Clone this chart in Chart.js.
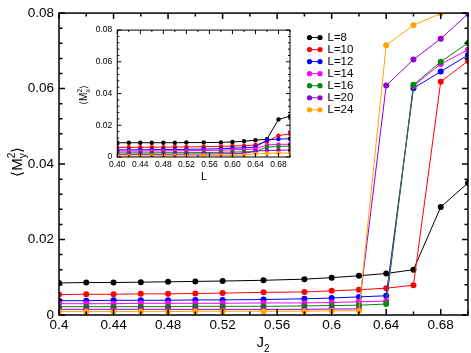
<!DOCTYPE html>
<html>
<head>
<meta charset="utf-8">
<script src="https://cdn.jsdelivr.net/npm/chart.js@4.4.1/dist/chart.umd.min.js"></script>
<style>
  body { margin: 0; background: #fff; }
  #wrap { position: relative; width: 471px; height: 353px; }
  #main { position: absolute; left: 0; top: 0; }
  #inset { position: absolute; left: 70px; top: 20px; }
</style>
</head>
<body>
<div id="wrap">
  <canvas id="main" width="471" height="353"></canvas>
  <canvas id="inset" width="230" height="165"></canvas>
</div>
<script>
// J2 values shared by every series
const J2 = [0.40, 0.42, 0.44, 0.46, 0.48, 0.50, 0.52, 0.55, 0.58, 0.60, 0.62, 0.64, 0.66, 0.68, 0.70];
const sizes = ["L=8", "L=10", "L=12", "L=14", "L=16", "L=20", "L=24"];
const colors = ["#000000", "#ff0000", "#0000ff", "#ff00ff", "#008b00", "#9400d3", "#ffa500"];

// main plot: <My^2>
const myL8  = [0.0085, 0.0086, 0.0086, 0.0087, 0.0088, 0.0089, 0.0090, 0.0092, 0.0095, 0.0099, 0.0104, 0.0110, 0.0120, 0.0286, 0.0350];
const myL10 = [0.0054, 0.0055, 0.0055, 0.0056, 0.0056, 0.0057, 0.0058, 0.0060, 0.0061, 0.0064, 0.0067, 0.0071, 0.0079, 0.0618, 0.0673];
const myL12 = [0.0038, 0.0038, 0.0039, 0.0039, 0.0039, 0.0040, 0.0040, 0.0041, 0.0043, 0.0045, 0.0048, 0.0051, 0.0601, 0.0645, 0.0689];
const myL14 = [0.0030, 0.0030, 0.0030, 0.0031, 0.0031, 0.0031, 0.0031, 0.0032, 0.0032, 0.0033, 0.0035, 0.0037, 0.0607, 0.0665, 0.0703];
const myL16 = [0.0022, 0.0022, 0.0022, 0.0022, 0.0022, 0.0023, 0.0023, 0.0023, 0.0024, 0.0025, 0.0026, 0.0029, 0.0610, 0.0671, 0.0721];
const myL20 = [0.0015, 0.0015, 0.0015, 0.0015, 0.0015, 0.0015, 0.0015, 0.0015, 0.0015, 0.0016, 0.0016, 0.0608, 0.0677, 0.0732, 0.0798];
const myL24 = [0.0009, 0.0009, 0.0009, 0.0009, 0.0009, 0.0010, 0.0010, 0.0010, 0.0010, 0.0011, 0.0011, 0.0715, 0.0768, 0.0799, 0.0815];

// inset: <Mx^2>
const mxL8  = [0.0090, 0.0090, 0.0090, 0.0090, 0.0090, 0.0090, 0.0091, 0.0091, 0.0092, 0.0095, 0.0099, 0.0106, 0.0112, 0.0237, 0.0257];
const mxL10 = [0.0061, 0.0061, 0.0061, 0.0062, 0.0062, 0.0063, 0.0063, 0.0065, 0.0067, 0.0069, 0.0071, 0.0076, 0.0098, 0.0135, 0.0146];
const mxL12 = [0.0045, 0.0045, 0.0046, 0.0046, 0.0047, 0.0047, 0.0048, 0.0050, 0.0052, 0.0055, 0.0058, 0.0062, 0.0108, 0.0113, 0.0115];
const mxL14 = [0.0037, 0.0037, 0.0037, 0.0038, 0.0038, 0.0039, 0.0039, 0.0041, 0.0043, 0.0045, 0.0047, 0.0050, 0.0076, 0.0079, 0.0081];
const mxL16 = [0.0026, 0.0026, 0.0026, 0.0026, 0.0027, 0.0027, 0.0027, 0.0028, 0.0030, 0.0031, 0.0032, 0.0034, 0.0063, 0.0066, 0.0069];
const mxL20 = [0.0017, 0.0017, 0.0017, 0.0017, 0.0017, 0.0018, 0.0018, 0.0019, 0.0020, 0.0021, 0.0022, 0.0038, 0.0041, 0.0043, 0.0044];
const mxL24 = [0.0007, 0.0007, 0.0007, 0.0008, 0.0008, 0.0008, 0.0008, 0.0009, 0.0010, 0.0011, 0.0012, 0.0020, 0.0023, 0.0025, 0.0026];

// tick labels
const mainXTicks = [0.40, 0.44, 0.48, 0.52, 0.56, 0.60, 0.64, 0.68];
const mainYTicks = [0, 0.02, 0.04, 0.06, 0.08];
const insetXTicks = [0.40, 0.44, 0.48, 0.52, 0.56, 0.60, 0.64, 0.68];
const insetYTicks = [0, 0.02, 0.04, 0.06, 0.08];

const FONT = "'Liberation Sans', Arial, sans-serif";

function buildSets(series, radius) {
  return series.map((vals, i) => ({
    label: sizes[i],
    data: J2.map((x, k) => ({ x: x, y: vals[k] })),
    borderColor: colors[i],
    backgroundColor: colors[i],
    borderWidth: 1,
    pointRadius: radius,
    pointHoverRadius: radius,
    pointBorderWidth: 0,
    tension: 0,
    order: series.length - i,
  }));
}

// box + inward ticks on all four sides
function framePlugin(o) {
  return {
    id: "frame",
    afterDatasetsDraw(chart) {
      const { ctx, chartArea: a, scales: { x, y } } = chart;
      ctx.save();
      ctx.strokeStyle = "#000";
      ctx.lineWidth = o.lw;
      ctx.beginPath();
      let n = Math.round((x.max - x.min) / o.xMinor);
      for (let i = 0; i <= n; i++) {
        const px = x.getPixelForValue(x.min + i * o.xMinor);
        const len = i % o.xRatio === 0 ? o.major : o.minor;
        ctx.moveTo(px, a.bottom); ctx.lineTo(px, a.bottom - len);
        ctx.moveTo(px, a.top); ctx.lineTo(px, a.top + len);
      }
      n = Math.round((y.max - y.min) / o.yMinor);
      for (let i = 0; i <= n; i++) {
        const py = y.getPixelForValue(y.min + i * o.yMinor);
        const len = i % o.yRatio === 0 ? o.major : o.minor;
        ctx.moveTo(a.left, py); ctx.lineTo(a.left + len, py);
        ctx.moveTo(a.right, py); ctx.lineTo(a.right - len, py);
      }
      ctx.stroke();
      ctx.strokeRect(a.left, a.top, a.right - a.left, a.bottom - a.top);
      ctx.restore();
    },
  };
}

// text with super/subscripts; parts: {t, size, dy, hold}
function drawRich(ctx, parts, cx, base) {
  let w = 0;
  const widths = parts.map((p) => {
    ctx.font = p.size + "px " + FONT;
    const m = ctx.measureText(p.t).width;
    return m;
  });
  parts.forEach((p, i) => { if (!p.hold) w += widths[i]; });
  let x = cx - w / 2;
  parts.forEach((p, i) => {
    ctx.font = p.size + "px " + FONT;
    ctx.fillText(p.t, x, base + (p.dy || 0));
    if (!p.hold) x += widths[i];
  });
}

const mainText = {
  id: "mainText",
  afterDraw(chart) {
    const ctx = chart.ctx;
    ctx.save();
    ctx.fillStyle = "#000";
    ctx.textBaseline = "alphabetic";
    ctx.textAlign = "left";
    // y title
    ctx.save();
    ctx.translate(21.5, 162);
    ctx.rotate(-Math.PI / 2);
    drawRich(ctx, [
      { t: "\u27E8", size: 15 },
      { t: "M", size: 15 },
      { t: "2", size: 10, dy: -7, hold: true },
      { t: "y", size: 10, dy: 4 },
      { t: "\u27E9", size: 15 },
    ], 0, 0);
    ctx.restore();
    // x title
    drawRich(ctx, [
      { t: "J", size: 15 },
      { t: "2", size: 10, dy: 5 },
    ], 263, 347);
    // legend
    chart.data.datasets.forEach((ds, i) => {
      const yy = 37.5 + i * 12.05;
      ctx.strokeStyle = ds.borderColor;
      ctx.fillStyle = ds.borderColor;
      ctx.lineWidth = 1;
      ctx.beginPath();
      ctx.moveTo(309.5, yy); ctx.lineTo(320, yy);
      ctx.stroke();
      [309.5, 320].forEach((px) => {
        ctx.beginPath();
        ctx.arc(px, yy, 2.6, 0, Math.PI * 2);
        ctx.fill();
      });
      ctx.fillStyle = "#000";
      ctx.font = "11.5px " + FONT;
      ctx.textBaseline = "middle";
      ctx.fillText(ds.label, 327.5, yy + 0.5);
    });
    ctx.restore();
  },
};

const insetText = {
  id: "insetText",
  afterDraw(chart) {
    const ctx = chart.ctx;
    ctx.save();
    ctx.fillStyle = "#000";
    ctx.textBaseline = "alphabetic";
    ctx.save();
    ctx.translate(16.5, 75);
    ctx.rotate(-Math.PI / 2);
    drawRich(ctx, [
      { t: "\u27E8", size: 10 },
      { t: "M", size: 10 },
      { t: "2", size: 7, dy: -5, hold: true },
      { t: "x", size: 7, dy: 3 },
      { t: "\u27E9", size: 10 },
    ], 0, 0);
    ctx.restore();
    drawRich(ctx, [{ t: "L", size: 11 }], 134, 160);
    ctx.restore();
  },
};

Chart.defaults.font.family = FONT;
Chart.defaults.color = "#000";

new Chart(document.getElementById("main"), {
  type: "line",
  data: { datasets: buildSets([myL8, myL10, myL12, myL14, myL16, myL20, myL24], 3) },
  options: {
    responsive: false,
    animation: false,
    events: [],
    layout: { padding: { top: 6, right: 2, left: 0, bottom: 0 } },
    plugins: { legend: { display: false }, tooltip: { enabled: false } },
    scales: {
      x: {
        type: "linear",
        min: 0.4,
        max: 0.7,
        afterFit: (s) => { s.height = 38; },
        afterBuildTicks: (s) => { s.ticks = mainXTicks.map((v) => ({ value: v })); },
        grid: { display: false, drawTicks: false },
        border: { display: false },
        ticks: {
          autoSkip: false, maxRotation: 0, padding: 2,
          font: { size: 13.5 },
          callback: (v) => String(+v.toFixed(2)),
        },
      },
      y: {
        min: 0,
        max: 0.08,
        afterFit: (s) => { s.width = 59; },
        afterBuildTicks: (s) => { s.ticks = mainYTicks.map((v) => ({ value: v })); },
        grid: { display: false, drawTicks: false },
        border: { display: false },
        ticks: {
          autoSkip: false, padding: 5,
          font: { size: 13.5 },
          callback: (v) => (v === 0 ? "0" : v.toFixed(2)),
        },
      },
    },
  },
  plugins: [framePlugin({ lw: 1.5, major: 6, minor: 3.5, xMinor: 0.02, xRatio: 2, yMinor: 0.004, yRatio: 5 }), mainText],
});

new Chart(document.getElementById("inset"), {
  type: "line",
  data: { datasets: buildSets([mxL8, mxL10, mxL12, mxL14, mxL16, mxL20, mxL24], 2.2) },
  options: {
    responsive: false,
    animation: false,
    events: [],
    layout: { padding: { top: 8.3, right: 10, left: 0, bottom: 0 } },
    plugins: { legend: { display: false }, tooltip: { enabled: false } },
    scales: {
      x: {
        type: "linear",
        min: 0.4,
        max: 0.7,
        afterFit: (s) => { s.height = 28; },
        afterBuildTicks: (s) => { s.ticks = insetXTicks.map((v) => ({ value: v })); },
        grid: { display: false, drawTicks: false },
        border: { display: false },
        ticks: {
          autoSkip: false, maxRotation: 0, padding: 3,
          font: { size: 8.5 },
          callback: (v) => v.toFixed(2),
        },
      },
      y: {
        min: 0,
        max: 0.08,
        afterFit: (s) => { s.width = 47.3; },
        afterBuildTicks: (s) => { s.ticks = insetYTicks.map((v) => ({ value: v })); },
        grid: { display: false, drawTicks: false },
        border: { display: false },
        ticks: {
          autoSkip: false, padding: 5,
          font: { size: 8.5 },
          callback: (v) => (v === 0 ? "0" : v.toFixed(2)),
        },
      },
    },
  },
  plugins: [framePlugin({ lw: 1, major: 4, minor: 2, xMinor: 0.02, xRatio: 2, yMinor: 0.004, yRatio: 5 }), insetText],
});
</script>
</body>
</html>
